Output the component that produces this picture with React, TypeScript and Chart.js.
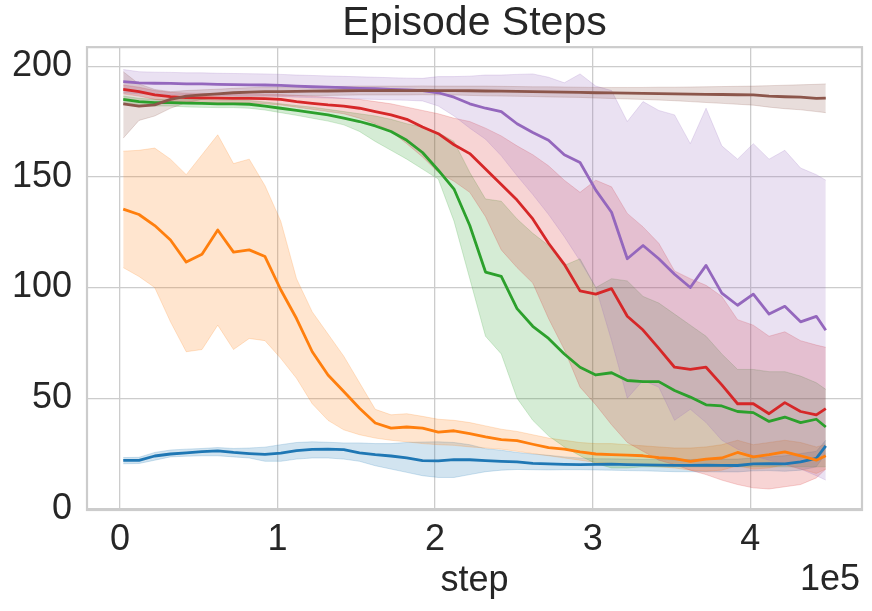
import React, { useEffect, useRef } from 'react';
import Chart from 'chart.js/auto';

// training steps (x), one sample every 10k steps
const STEPS = [
  2000, 12000, 22000, 32000, 42000, 52000, 62000, 72000, 82000, 92000,
  102000, 112000, 122000, 132000, 142000, 152000, 162000, 172000, 182000, 192000,
  202000, 212000, 222000, 232000, 242000, 252000, 262000, 272000, 282000, 292000,
  302000, 312000, 322000, 332000, 342000, 352000, 362000, 372000, 382000, 392000,
  402000, 412000, 422000, 432000, 442000, 448000,
];

const X_TICKS = [0, 100000, 200000, 300000, 400000];
const Y_TICKS = [0, 50, 100, 150, 200];

const BLUE_MEAN = [
  21.9, 21.9, 23.9, 24.8, 25.3, 25.9, 26.2, 25.5, 25.0, 24.6,
  25.2, 26.3, 26.9, 27.0, 26.8, 25.3, 24.5, 23.9, 23.0, 21.8,
  21.7, 22.3, 22.2, 21.8, 21.5, 21.2, 20.6, 20.3, 20.1, 20.0,
  20.1, 20.2, 20.0, 19.9, 19.8, 19.7, 19.7, 19.8, 19.7, 19.6,
  20.3, 20.4, 20.3, 21.2, 22.8, 28.5,
];
const BLUE_UPPER = [
  23.2, 23.3, 25.5, 26.6, 27.0, 27.3, 27.7, 27.3, 27.5, 27.9,
  29.0, 30.0, 30.3, 30.1, 29.8, 29.8, 29.5, 29.5, 30.0, 30.2,
  30.3, 30.0, 29.0, 27.2, 26.5, 25.5, 24.8, 24.2, 23.5, 23.0,
  22.7, 22.6, 22.5, 22.3, 22.3, 22.2, 22.3, 22.5, 22.5, 22.5,
  23.0, 23.5, 24.0, 25.0, 26.0, 31.0,
];
const BLUE_LOWER = [
  20.4, 20.5, 22.0, 23.5, 23.8, 24.0, 24.0, 23.5, 23.0, 21.5,
  21.5, 22.5, 23.0, 23.0, 22.5, 21.5, 19.5, 18.0, 16.5, 15.0,
  14.2, 14.2, 15.5, 16.8, 17.5, 17.8, 17.7, 17.6, 17.7, 17.7,
  17.6, 17.5, 17.3, 17.2, 17.0, 16.8, 16.8, 16.8, 16.7, 16.7,
  17.2, 17.3, 17.0, 17.5, 19.0, 25.0,
];

const ORANGE_MEAN = [
  135.4, 133, 128, 121.5, 111.5, 115, 126, 116, 117, 114,
  99, 86, 71, 60.5, 53, 45.5, 38.8, 36.5, 37, 36.5,
  34.7, 35.3, 34, 32.5, 31.3, 30.8, 29.2, 27.7, 27, 25.8,
  24.8, 24.5, 24.3, 24, 23.2, 22.7, 21.5, 22.5, 23, 25.5,
  23.5, 24.5, 25.8, 24, 22, 24,
];
const ORANGE_UPPER = [
  161.6, 162, 163, 158, 151, 160, 169, 156, 158, 146,
  130, 104, 89, 79, 69, 57, 45, 42.5, 43, 41.8,
  40.5, 40, 39, 37.5, 36, 35, 33.5, 32, 31, 30,
  29.5, 29.5, 29, 28.5, 28, 27.5, 27.5, 28, 29, 31,
  29, 30, 31, 30, 28, 29,
];
const ORANGE_LOWER = [
  109, 105, 100, 84.5, 71, 72, 83, 72, 77, 76,
  68, 59, 47.5, 40, 35.7, 33.5, 32, 31, 30.3, 29.5,
  29, 28.7, 28, 27.5, 27, 26, 25, 24, 23, 22,
  21, 20.5, 20, 19.5, 19, 18.5, 17.5, 17, 17.5, 19.5,
  18, 18.5, 20, 18, 16, 18,
];

const GREEN_MEAN = [
  185, 184, 183.5, 183.5, 183.3, 183.2, 183, 183, 182.8, 182,
  181, 180, 179, 178, 176.5, 175, 173, 170.5, 166.5, 161,
  153, 144.5, 128, 107, 105, 90.5, 82.5, 77, 70, 64,
  60.5, 61.5, 58, 57.5, 57.5, 53.5, 50.5, 47, 46.5, 44,
  43.5, 39.5, 41.5, 39, 40.5, 37,
];
const GREEN_UPPER = [
  186.5, 185.5, 185, 185, 185, 185, 184.7, 184.7, 184.5, 183.8,
  183, 182.2, 181.5, 180.5, 179.5, 178.5, 177.5, 176, 174, 172.5,
  170, 166, 152, 140, 139, 131, 124.5, 119, 110, 113,
  100, 104, 103, 96, 93, 88, 83, 78, 70, 63,
  63, 62, 62, 60, 57, 54,
];
const GREEN_LOWER = [
  183.5, 182.5, 182, 182, 181.6, 181.4, 181.3, 181.3, 181, 180.2,
  179, 177.8, 176.5, 175.2, 173.5, 170.5, 166, 162, 158, 153.5,
  149, 130, 104, 78, 70, 50, 40, 33, 28, 24,
  20.5, 18.5, 18.5, 19, 19, 19, 19, 19, 19, 19,
  19, 19, 19, 19, 19, 19,
];

const RED_MEAN = [
  189.5, 188.5, 187, 186.2, 185.8, 185.7, 185.6, 185.5, 185.5, 185.3,
  185, 184, 183.2, 182.5, 182, 181, 179.5, 178, 176, 172.5,
  169.5, 164.5, 160.5, 153.5, 146.5, 139.5, 131, 120, 110.5, 98.5,
  97, 99.5, 87, 80.8, 72.5, 64, 63, 64, 56, 47.5,
  47.5, 43, 48, 44, 42.5, 45.3,
];
const RED_UPPER = [
  191.5, 190.5, 189, 188.2, 187.8, 187.7, 187.6, 187.5, 187.5, 187.4,
  187.2, 186.8, 186.4, 186, 185.5, 185, 184, 183, 181.5, 180,
  178.5, 176.5, 175, 172, 168.5, 164, 160, 155, 148.5, 143,
  148.5, 145.5, 133.5, 127.4, 120, 107.5, 104, 101, 96, 85.5,
  83, 78, 80, 76, 74, 73,
];
const RED_LOWER = [
  187.5, 186.5, 185, 184.2, 183.8, 183.7, 183.6, 183.5, 183.3, 183,
  182.5, 181.5, 180.5, 179.5, 178.5, 176.5, 174, 170.5, 165, 159,
  152, 148, 143, 132, 117, 109, 102, 86, 72, 55,
  47, 38, 30, 26, 22, 20, 17.5, 15.5, 13, 11,
  9.5, 9, 10, 11, 14, 18,
];

const PURPLE_MEAN = [
  193, 192.5, 192.3, 192.2, 192, 192, 191.8, 191.7, 191.6, 191.5,
  191.3, 191, 190.7, 190.5, 190.3, 190, 189.8, 189.5, 189.3, 189,
  188, 186, 183, 181, 179.5, 174, 170, 166.5, 160, 156.5,
  144, 134, 113, 119, 113, 106, 100, 110, 97.5, 92,
  97, 88, 91.5, 84.5, 87, 80.7,
];
const PURPLE_UPPER = [
  198.5, 197.5, 197.3, 197.2, 197, 197, 196.8, 196.7, 196.6, 196.5,
  196.3, 196, 195.8, 195.6, 195.4, 195.2, 195, 194.8, 194.6, 194.5,
  195.3, 195.3, 195.5, 196, 196, 196.3, 196.5, 195, 192.5, 196.5,
  191, 189, 175, 184, 180, 178, 165, 181, 164, 158,
  165, 158, 162, 154, 151, 148.5,
];
const PURPLE_LOWER = [
  188, 187.5, 187.3, 187.2, 187, 187, 186.8, 186.7, 186.6, 186.5,
  186.3, 186, 185.8, 185.6, 185.4, 185.2, 185, 184.8, 184.6, 184.3,
  182, 177.5, 172, 167, 159.5, 150.5, 142, 133, 123, 112,
  100, 76, 50, 58, 55, 40, 45, 39, 31, 27,
  24, 22, 20, 18, 15, 13,
];

const BROWN_MEAN = [
  183, 182, 182.5, 185, 186.5, 187, 187.5, 188, 188.3, 188.5,
  188.5, 188.6, 188.7, 188.8, 188.9, 189, 189, 189.1, 189, 189.1,
  189, 189, 188.9, 188.8, 188.7, 188.6, 188.5, 188.4, 188.3, 188.2,
  188, 187.9, 187.8, 187.7, 187.6, 187.5, 187.4, 187.3, 187.2, 187.1,
  187, 186.5, 186.2, 186, 185.5, 185.6,
];
const BROWN_UPPER = [
  197.5, 192, 189.5, 188.5, 189, 189.3, 189.6, 190, 190.3, 190.5,
  190.5, 190.6, 190.7, 190.8, 190.9, 191, 191, 191, 191, 191.1,
  191, 191, 191, 191, 190.9, 190.8, 190.7, 190.7, 190.6, 190.5,
  190.4, 190.4, 190.4, 190.4, 190.5, 190.5, 190.6, 190.7, 190.8, 190.9,
  191, 191.2, 191.4, 191.6, 191.8, 192,
];
const BROWN_LOWER = [
  167.5, 175.5, 177.5, 181, 183.5, 185, 185.5, 186, 186.3, 186.5,
  186.5, 186.6, 186.7, 186.8, 186.9, 187, 187, 187, 187, 187.1,
  187, 187, 186.8, 186.6, 186.5, 186.4, 186.3, 186.1, 186, 185.9,
  185.6, 185.4, 185.2, 185, 184.7, 184.4, 184, 183.6, 183.2, 182.8,
  182.4, 181.5, 180.8, 180.3, 179.5, 179,
];

// tab10 colours, in seaborn hue order
const COLORS = ['31,119,180', '255,127,14', '44,160,44', '214,39,40', '148,103,189', '140,86,75'];

const SERIES = [
  { mean: BLUE_MEAN, upper: BLUE_UPPER, lower: BLUE_LOWER },
  { mean: ORANGE_MEAN, upper: ORANGE_UPPER, lower: ORANGE_LOWER },
  { mean: GREEN_MEAN, upper: GREEN_UPPER, lower: GREEN_LOWER },
  { mean: RED_MEAN, upper: RED_UPPER, lower: RED_LOWER },
  { mean: PURPLE_MEAN, upper: PURPLE_UPPER, lower: PURPLE_LOWER },
  { mean: BROWN_MEAN, upper: BROWN_UPPER, lower: BROWN_LOWER },
];

const FONT = "'Liberation Sans', Arial, sans-serif";
const TEXT = '#262626';
const GRID = '#cccccc';

const toPoints = (ys: number[]) => ys.map((y, i) => ({ x: STEPS[i], y }));

// axes frame (all four spines), title centred over the axes, offset text
const framePlugin = {
  id: 'frame',
  afterLayout(chart: any) {
    const t = chart.titleBlock;
    if (t) {
      t.left = chart.chartArea.left;
      t.right = chart.chartArea.right;
    }
  },
  afterDatasetsDraw(chart: any) {
    const { ctx, chartArea: a } = chart;
    ctx.save();
    ctx.strokeStyle = GRID;
    ctx.lineWidth = 2.2;
    ctx.strokeRect(a.left, a.top, a.right - a.left, a.bottom - a.top);
    ctx.restore();
  },
  afterDraw(chart: any) {
    const { ctx, chartArea: a } = chart;
    ctx.save();
    ctx.font = `36px ${FONT}`;
    ctx.fillStyle = TEXT;
    ctx.textAlign = 'right';
    ctx.textBaseline = 'alphabetic';
    ctx.fillText('1e5', a.right - 2, 590);
    ctx.restore();
  },
};

export default function App() {
  const canvasRef = useRef<HTMLCanvasElement>(null);
  const chartRef = useRef<Chart | null>(null);

  useEffect(() => {
    if (!canvasRef.current) return;
    if (chartRef.current) chartRef.current.destroy();

    const bands: any[] = [];
    const lines: any[] = [];
    SERIES.forEach((s, k) => {
      const c = COLORS[k];
      bands.push({
        data: toPoints(s.upper),
        fill: '+1',
        backgroundColor: `rgba(${c},0.2)`,
        borderColor: `rgba(${c},0.2)`,
        borderWidth: 1,
        pointRadius: 0,
        order: 20 - k,
      });
      bands.push({
        data: toPoints(s.lower),
        fill: false,
        borderColor: `rgba(${c},0.2)`,
        borderWidth: 1,
        pointRadius: 0,
        order: 20 - k,
      });
      lines.push({
        data: toPoints(s.mean),
        fill: false,
        borderColor: `rgb(${c})`,
        borderWidth: 2.8,
        borderJoinStyle: 'round',
        pointRadius: 0,
        order: 10 - k,
      });
    });

    chartRef.current = new Chart(canvasRef.current, {
      type: 'line',
      data: { datasets: [...bands, ...lines] },
      options: {
        responsive: false,
        animation: false,
        layout: { padding: { left: 0, right: 10, top: 0, bottom: 0 } },
        plugins: {
          legend: { display: false },
          tooltip: { enabled: false },
          title: {
            display: true,
            text: 'Episode Steps',
            color: TEXT,
            font: { family: FONT, size: 41, weight: 'normal', lineHeight: 1.15 },
            padding: 0,
          },
        },
        scales: {
          x: {
            type: 'linear',
            min: -21000,
            max: 471000,
            afterBuildTicks: (scale: any) => {
              scale.ticks = X_TICKS.map((v) => ({ value: v }));
            },
            afterFit: (scale: any) => {
              scale.height = 101;
            },
            ticks: {
              callback: (v: any) => String(Number(v) / 100000),
              color: TEXT,
              font: { family: FONT, size: 36 },
              padding: 8,
              maxRotation: 0,
              autoSkip: false,
            },
            grid: { color: GRID, lineWidth: 1.3, drawTicks: false },
            border: { display: false },
            title: {
              display: true,
              text: 'step',
              color: TEXT,
              font: { family: FONT, size: 36 },
              padding: { top: 0, bottom: 8 },
            },
          },
          y: {
            type: 'linear',
            min: -0.5,
            max: 208.6,
            afterBuildTicks: (scale: any) => {
              scale.ticks = Y_TICKS.map((v) => ({ value: v }));
            },
            afterFit: (scale: any) => {
              scale.width = 87;
            },
            ticks: {
              color: TEXT,
              font: { family: FONT, size: 36 },
              padding: 15,
              autoSkip: false,
            },
            grid: { color: GRID, lineWidth: 1.3, drawTicks: false },
            border: { display: false },
          },
        },
      },
      plugins: [framePlugin],
    });

    return () => {
      if (chartRef.current) {
        chartRef.current.destroy();
        chartRef.current = null;
      }
    };
  }, []);

  return (
    <div style={{ position: 'absolute', left: 0, top: 0, width: 872, height: 611, background: '#fff' }}>
      <canvas ref={canvasRef} width={872} height={611} style={{ display: 'block' }} />
    </div>
  );
}
